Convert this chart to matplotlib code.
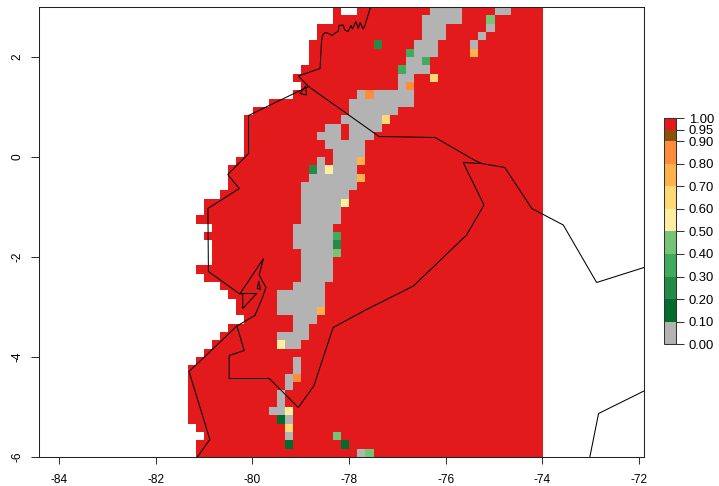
import numpy as np
import matplotlib
matplotlib.use('Agg')
import matplotlib.pyplot as plt
from matplotlib.colors import ListedColormap, BoundaryNorm

plt.rcParams['font.family'] = ['Liberation Sans', 'DejaVu Sans']
plt.rcParams['axes.unicode_minus'] = False

# raster grid: 10 arc-minute cells, rows listed from the top
lon_min, lon_max = -81 - 2 / 6, -74
lat_min, lat_max = -6, 3
n_rows, n_cols = 54, 44

# first land column in each row
land_start = [18, 18, 16, 16, 15, 15, 15, 14, 13, 14, 13, 10, 8, 7, 7, 7, 7, 7,
              6, 5, 5, 5, 4, 2, 2, 1, 3, 2, 3, 3, 3, 1, 2, 4, 5, 6, 6, 7,
              5, 4, 3, 2, 1, 0, 0, 0, 0, 0, 0, 0, 1, 2, 1, 1]
holes = [(0, 19), (0, 20)]

# cells in the 0.00-0.10 class: (row, first column, last column)
low_runs = [(0, 30, 33), (0, 38, 39), (1, 29, 33), (2, 29, 31), (2, 37, 37),
            (3, 29, 31), (3, 36, 36), (4, 28, 30), (4, 35, 35), (5, 28, 30),
            (6, 27, 28), (7, 27, 29), (8, 26, 27), (9, 26, 26), (10, 21, 27),
            (11, 20, 27), (12, 20, 25), (13, 19, 23), (14, 17, 18), (14, 20, 23),
            (15, 16, 18), (15, 20, 22), (16, 17, 21), (17, 18, 21), (18, 16, 16),
            (18, 18, 20), (19, 16, 16), (19, 18, 20), (20, 15, 20), (21, 14, 20),
            (22, 14, 19), (23, 14, 18), (24, 14, 18), (25, 14, 18), (26, 13, 17),
            (27, 13, 17), (28, 13, 17), (29, 14, 17), (30, 14, 17), (31, 14, 17),
            (32, 14, 17), (33, 13, 16), (34, 11, 16), (35, 11, 16), (36, 11, 15),
            (37, 13, 15), (38, 13, 14), (39, 11, 14), (40, 12, 13), (42, 13, 13),
            (43, 13, 13), (44, 12, 12), (45, 12, 12), (46, 11, 11), (47, 11, 11),
            (48, 10, 11), (49, 12, 12), (51, 12, 12), (53, 21, 21)]

# single cells with a value of their own: (row, column, value)
other_cells = [(1, 37, 0.45), (4, 23, 0.25), (5, 27, 0.35), (5, 35, 0.75), (6, 29, 0.35),
               (7, 26, 0.35), (8, 30, 0.65), (9, 27, 0.85), (10, 22, 0.85), (13, 24, 0.65),
               (18, 21, 0.75), (19, 15, 0.25), (19, 17, 0.55), (20, 21, 0.75), (23, 19, 0.55),
               (27, 18, 0.35), (28, 18, 0.25), (29, 18, 0.45), (36, 16, 0.75), (40, 11, 0.55),
               (44, 13, 0.85), (48, 12, 0.55), (49, 11, 0.15), (50, 12, 0.65), (51, 18, 0.45),
               (52, 12, 0.15), (52, 19, 0.15), (53, 22, 0.45)]

breaks = [0, 0.1, 0.2, 0.3, 0.4, 0.5, 0.6, 0.7, 0.8, 0.9, 0.95, 1.0]
class_colors = ['#b3b3b3', '#006d2c', '#238b45', '#41ab5d', '#74c476', '#ffeda0',
                '#fed976', '#feb24c', '#fd8d3c', '#8c510a', '#e31a1c']

border_north_lon = [-77.53, -77.57, -77.67, -77.71, -77.77, -77.81, -77.86, -77.93, -77.96, -78.02,
                    -78.09, -78.12, -78.21, -78.22, -78.36, -78.42, -78.50, -78.55, -78.57, -78.60,
                    -79.05, -78.84, -77.38, -76.22, -75.43, -75.26, -74.78, -74.22, -73.57, -72.88, -71.90]
border_north_lat = [3.00, 2.96, 2.64, 2.56, 2.69, 2.57, 2.71, 2.56, 2.63, 2.51,
                    2.54, 2.64, 2.63, 2.52, 2.43, 2.47, 2.49, 2.43, 2.31, 1.77,
                    1.62, 1.41, 0.41, 0.39, -0.05, -0.13, -0.21, -1.03, -1.36, -2.51, -2.21]

ecuador_lon = [-78.84, -80.08, -80.08, -80.51, -80.27, -80.92, -80.91, -80.26, -79.77, -79.86,
               -79.72, -79.81, -79.95, -80.32, -80.17, -80.48, -80.48, -79.65, -79.05, -78.73,
               -78.33, -77.64, -76.67, -75.57, -75.21, -75.64, -75.26]
ecuador_lat = [1.41, 0.83, 0.07, -0.35, -0.63, -1.03, -2.29, -2.74, -2.03, -2.36,
               -2.61, -2.86, -3.17, -3.38, -3.87, -3.97, -4.43, -4.43, -5.01, -4.58,
               -3.41, -3.05, -2.58, -1.56, -0.96, -0.11, -0.13]

peru_coast_lon = [-80.32, -81.31, -80.88, -81.14]
peru_coast_lat = [-3.38, -4.29, -5.65, -6.00]

gulf_inlet_lon = [-80.26, -80.20, -79.91, -80.20, -80.20]
gulf_inlet_lat = [-2.74, -2.73, -2.73, -3.03, -2.73]

island_lon = [-79.87, -79.83, -79.90, -79.87]
island_lat = [-2.49, -2.65, -2.63, -2.49]

small_bay_lon = [-78.90, -78.88, -79.02, -78.90]
small_bay_lat = [1.41, 1.24, 1.27, 1.41]

southeast_lon = [-73.02, -72.84, -71.90]
southeast_lat = [-6.00, -5.13, -4.68]

# build the grid
grid = np.full((n_rows, n_cols), np.nan)
for row, start in enumerate(land_start):
    grid[row, start:] = 0.975
for row, col in holes:
    grid[row, col] = np.nan
for row, first, last in low_runs:
    grid[row, first:last + 1] = 0.05
for row, col, value in other_cells:
    grid[row, col] = value

cmap = ListedColormap(class_colors)
cmap.set_bad((1, 1, 1, 0))
norm = BoundaryNorm(breaks, cmap.N)

W, H = 719, 486
fig = plt.figure(figsize=(W / 100, H / 100), dpi=100)
ax = fig.add_axes([38.7 / W, 1 - 457 / H, (644 - 38.7) / W, 450 / H])

im = ax.imshow(grid, extent=(lon_min, lon_max, lat_min, lat_max), origin='upper',
               cmap=cmap, norm=norm, aspect='auto', interpolation='nearest')

for lons, lats in [(border_north_lon, border_north_lat), (ecuador_lon, ecuador_lat),
                   (peru_coast_lon, peru_coast_lat), (gulf_inlet_lon, gulf_inlet_lat),
                   (island_lon, island_lat), (small_bay_lon, small_bay_lat),
                   (southeast_lon, southeast_lat)]:
    ax.plot(lons, lats, color='black', lw=0.75, solid_joinstyle='miter')

ax.set_xlim(-84.42, -71.90)
ax.set_ylim(-6, 3)
ax.set_xticks(np.arange(-84, -71, 2))
ax.set_yticks(np.arange(-6, 3, 2))
ax.tick_params(axis='x', length=5, width=0.75, color='#333333', labelsize=8.6, pad=7.5)
ax.tick_params(axis='y', length=5.5, width=0.75, color='#333333', labelsize=8.6, pad=5.5)
for label in ax.get_yticklabels():
    label.set_rotation(90)
    label.set_va('center')
for spine in ax.spines.values():
    spine.set_linewidth(0.75)
    spine.set_color('#222222')

# colour key
cax = fig.add_axes([664.3 / W, 1 - 344.3 / H, 12 / W, 225.8 / H])
cbar = fig.colorbar(im, cax=cax, ticks=breaks, spacing='proportional', format='%.2f')
cbar.ax.tick_params(length=5.5, width=0.75, color='#333333', labelsize=9.4, pad=3.5)
cbar.outline.set_linewidth(0.75)
cbar.outline.set_edgecolor('#333333')
cbar.ax.minorticks_off()

fig.savefig('out.png', dpi=100)
